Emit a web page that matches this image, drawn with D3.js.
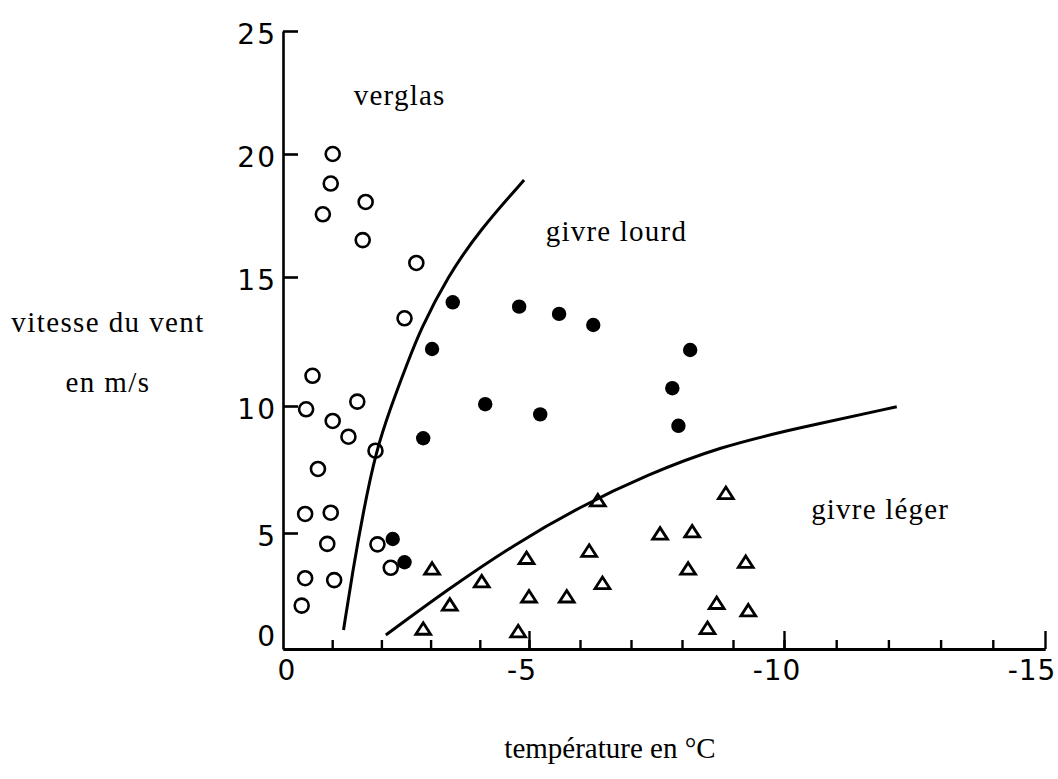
<!DOCTYPE html>
<html><head><meta charset="utf-8">
<script src="https://cdn.jsdelivr.net/npm/d3@7"></script>
<style>body{margin:0;background:#fff}</style>
</head><body>
<svg id="chart" width="1058" height="779"></svg>
<script>
// ---- data (temperature °C, wind speed m/s) ----
const verglasPoints = [
  [-1.01,20.0],[-0.97,18.8],[-1.68,18.05],[-0.81,17.55],[-1.62,16.5],[-2.71,15.57],
  [-2.47,13.4],[-0.60,11.17],[-0.47,9.87],[-1.51,10.17],[-1.01,9.41],[-1.33,8.79],
  [-1.88,8.24],[-0.71,7.52],[-0.45,5.75],[-0.97,5.8],[-0.90,4.53],[-1.92,4.51],
  [-2.19,3.50],[-0.45,3.05],[-1.04,2.97],[-0.38,1.87]
];
const givreLourdPoints = [
  [-3.45,14.02],[-4.80,13.85],[-5.59,13.57],[-6.26,13.14],[-8.16,12.17],[-3.03,12.21],
  [-7.81,10.69],[-4.11,10.07],[-5.22,9.67],[-7.93,9.22],[-2.85,8.73],[-2.23,4.74],[-2.47,3.74]
];
const givreLegerPoints = [
  [-6.35,6.27],[-8.86,6.56],[-7.57,4.96],[-8.20,5.05],[-4.95,3.91],[-6.18,4.22],
  [-8.12,3.45],[-9.25,3.74],[-3.03,3.45],[-4.04,2.90],[-6.44,2.83],[-5.00,2.25],
  [-5.74,2.25],[-3.39,1.90],[-8.68,1.97],[-9.30,1.65],[-2.85,0.86],[-4.78,0.75],[-8.50,0.89]
];
const boundaryVerglas = [
  [-1.23,0.82],[-1.42,3.41],[-1.64,5.91],[-1.88,8.15],[-2.19,9.96],[-2.53,11.67],
  [-2.79,12.95],[-3.34,15.0],[-4.0,16.91],[-4.90,18.94]
];
const boundaryLeger = [
  [-2.09,0.60],[-3.33,2.54],[-4.68,4.48],[-6.0,6.04],[-7.31,7.29],[-8.75,8.40],
  [-10.24,9.12],[-12.16,9.97]
];
const xMajorTicks = [0,-5,-10,-15];
const xMinorTicks = d3.range(-1,-15,-1);
const yTicks = [0,5,10,15,20,25];
const regionLabels = [
  {text:"verglas", x:-1.44, y:21.99},
  {text:"givre lourd", x:-5.33, y:16.46},
  {text:"givre léger", x:-10.52, y:5.55}
];
const yTitle = ["vitesse du vent","en m/s"];
const xTitle = "température en °C";

// ---- scales (hand-drawn axes are slightly irregular) ----
const x = d3.scaleLinear().domain(xMajorTicks).range([283,529,784,1045]);
const y = d3.scaleLinear().domain(yTicks).range([649,533,406,277,154,31]);

const svg = d3.select("#chart");
const ink = "#000";

// y axis
const yAxis = d3.axisLeft(y).tickValues(yTicks.filter(d=>d>0)).tickSize(-15).tickSizeOuter(0).tickFormat("");
const gy = svg.append("g").attr("transform","translate(283,0)").call(yAxis);
gy.selectAll("path,line").attr("stroke",ink).attr("stroke-width",2.6);

// x axis: minor ticks, major ticks
const gxMinor = svg.append("g").attr("transform","translate(0,649)")
  .call(d3.axisBottom(x).tickValues(xMinorTicks).tickSize(-9).tickSizeOuter(0).tickFormat(""));
gxMinor.selectAll("path,line").attr("stroke",ink).attr("stroke-width",2.4);
const gxMajor = svg.append("g").attr("transform","translate(0,649)")
  .call(d3.axisBottom(x).tickValues(xMajorTicks.filter(d=>d<0)).tickSize(-18).tickSizeOuter(0).tickFormat(""));
gxMajor.selectAll("path,line").attr("stroke",ink).attr("stroke-width",2.4);
gxMajor.select("path").attr("stroke-width",2.8);

// tick labels
const tickFont = "'DejaVu Sans', sans-serif";
svg.append("g").selectAll("text").data(yTicks).join("text")
  .attr("x",277).attr("y",d=> y(d) + (d===0 ? -13 : 3))
  .attr("dy","0.36em").attr("text-anchor","end")
  .attr("font-family",tickFont).attr("font-size",28).attr("letter-spacing",2)
  .attr("fill",ink).text(d=>d);
svg.append("g").selectAll("text").data(xMajorTicks).join("text")
  .attr("x",d=> x(d) + (d===0 ? 4 : (d===-15 ? -13 : -7)))
  .attr("y",670).attr("dy","0.36em").attr("text-anchor","middle")
  .attr("font-family",tickFont).attr("font-size",28).attr("letter-spacing",1)
  .attr("fill",ink).text(d=> d===0 ? "0" : "-" + Math.abs(d));

// boundary curves
const line = d3.line().x(d=>x(d[0])).y(d=>y(d[1])).curve(d3.curveBasis);
svg.append("g").selectAll("path").data([boundaryVerglas,boundaryLeger]).join("path")
  .attr("d",line).attr("fill","none").attr("stroke",ink).attr("stroke-width",3);

// points
svg.append("g").selectAll("circle").data(verglasPoints).join("circle")
  .attr("cx",d=>x(d[0])).attr("cy",d=>y(d[1])).attr("r",7)
  .attr("fill","none").attr("stroke",ink).attr("stroke-width",2.6);
svg.append("g").selectAll("circle").data(givreLourdPoints).join("circle")
  .attr("cx",d=>x(d[0])).attr("cy",d=>y(d[1])).attr("r",7.2)
  .attr("fill",ink);
const tri = "M0,-6.3L7.4,5.2L-7.4,5.2Z";
svg.append("g").selectAll("path").data(givreLegerPoints).join("path")
  .attr("transform",d=>`translate(${x(d[0])},${y(d[1])})`)
  .attr("d",tri).attr("fill","none").attr("stroke",ink).attr("stroke-width",2.8)
  .attr("stroke-linejoin","miter");

// texts
const serif = "'Liberation Serif', 'Times New Roman', serif";
svg.append("g").selectAll("text").data(regionLabels).join("text")
  .attr("x",d=>x(d.x)).attr("y",d=>y(d.y))
  .attr("font-family",serif).attr("font-size",29).attr("letter-spacing",1.2)
  .attr("fill",ink).text(d=>d.text);
svg.append("g").selectAll("text").data(yTitle).join("text")
  .attr("x",108).attr("y",(d,i)=> i===0 ? 332 : 392).attr("text-anchor","middle")
  .attr("font-family",serif).attr("font-size",29).attr("letter-spacing",1.4)
  .attr("fill",ink).text(d=>d);
svg.append("text").attr("x",610).attr("y",758).attr("text-anchor","middle")
  .attr("font-family",serif).attr("font-size",29)
  .attr("fill",ink).text(xTitle);
</script>
</body></html>
